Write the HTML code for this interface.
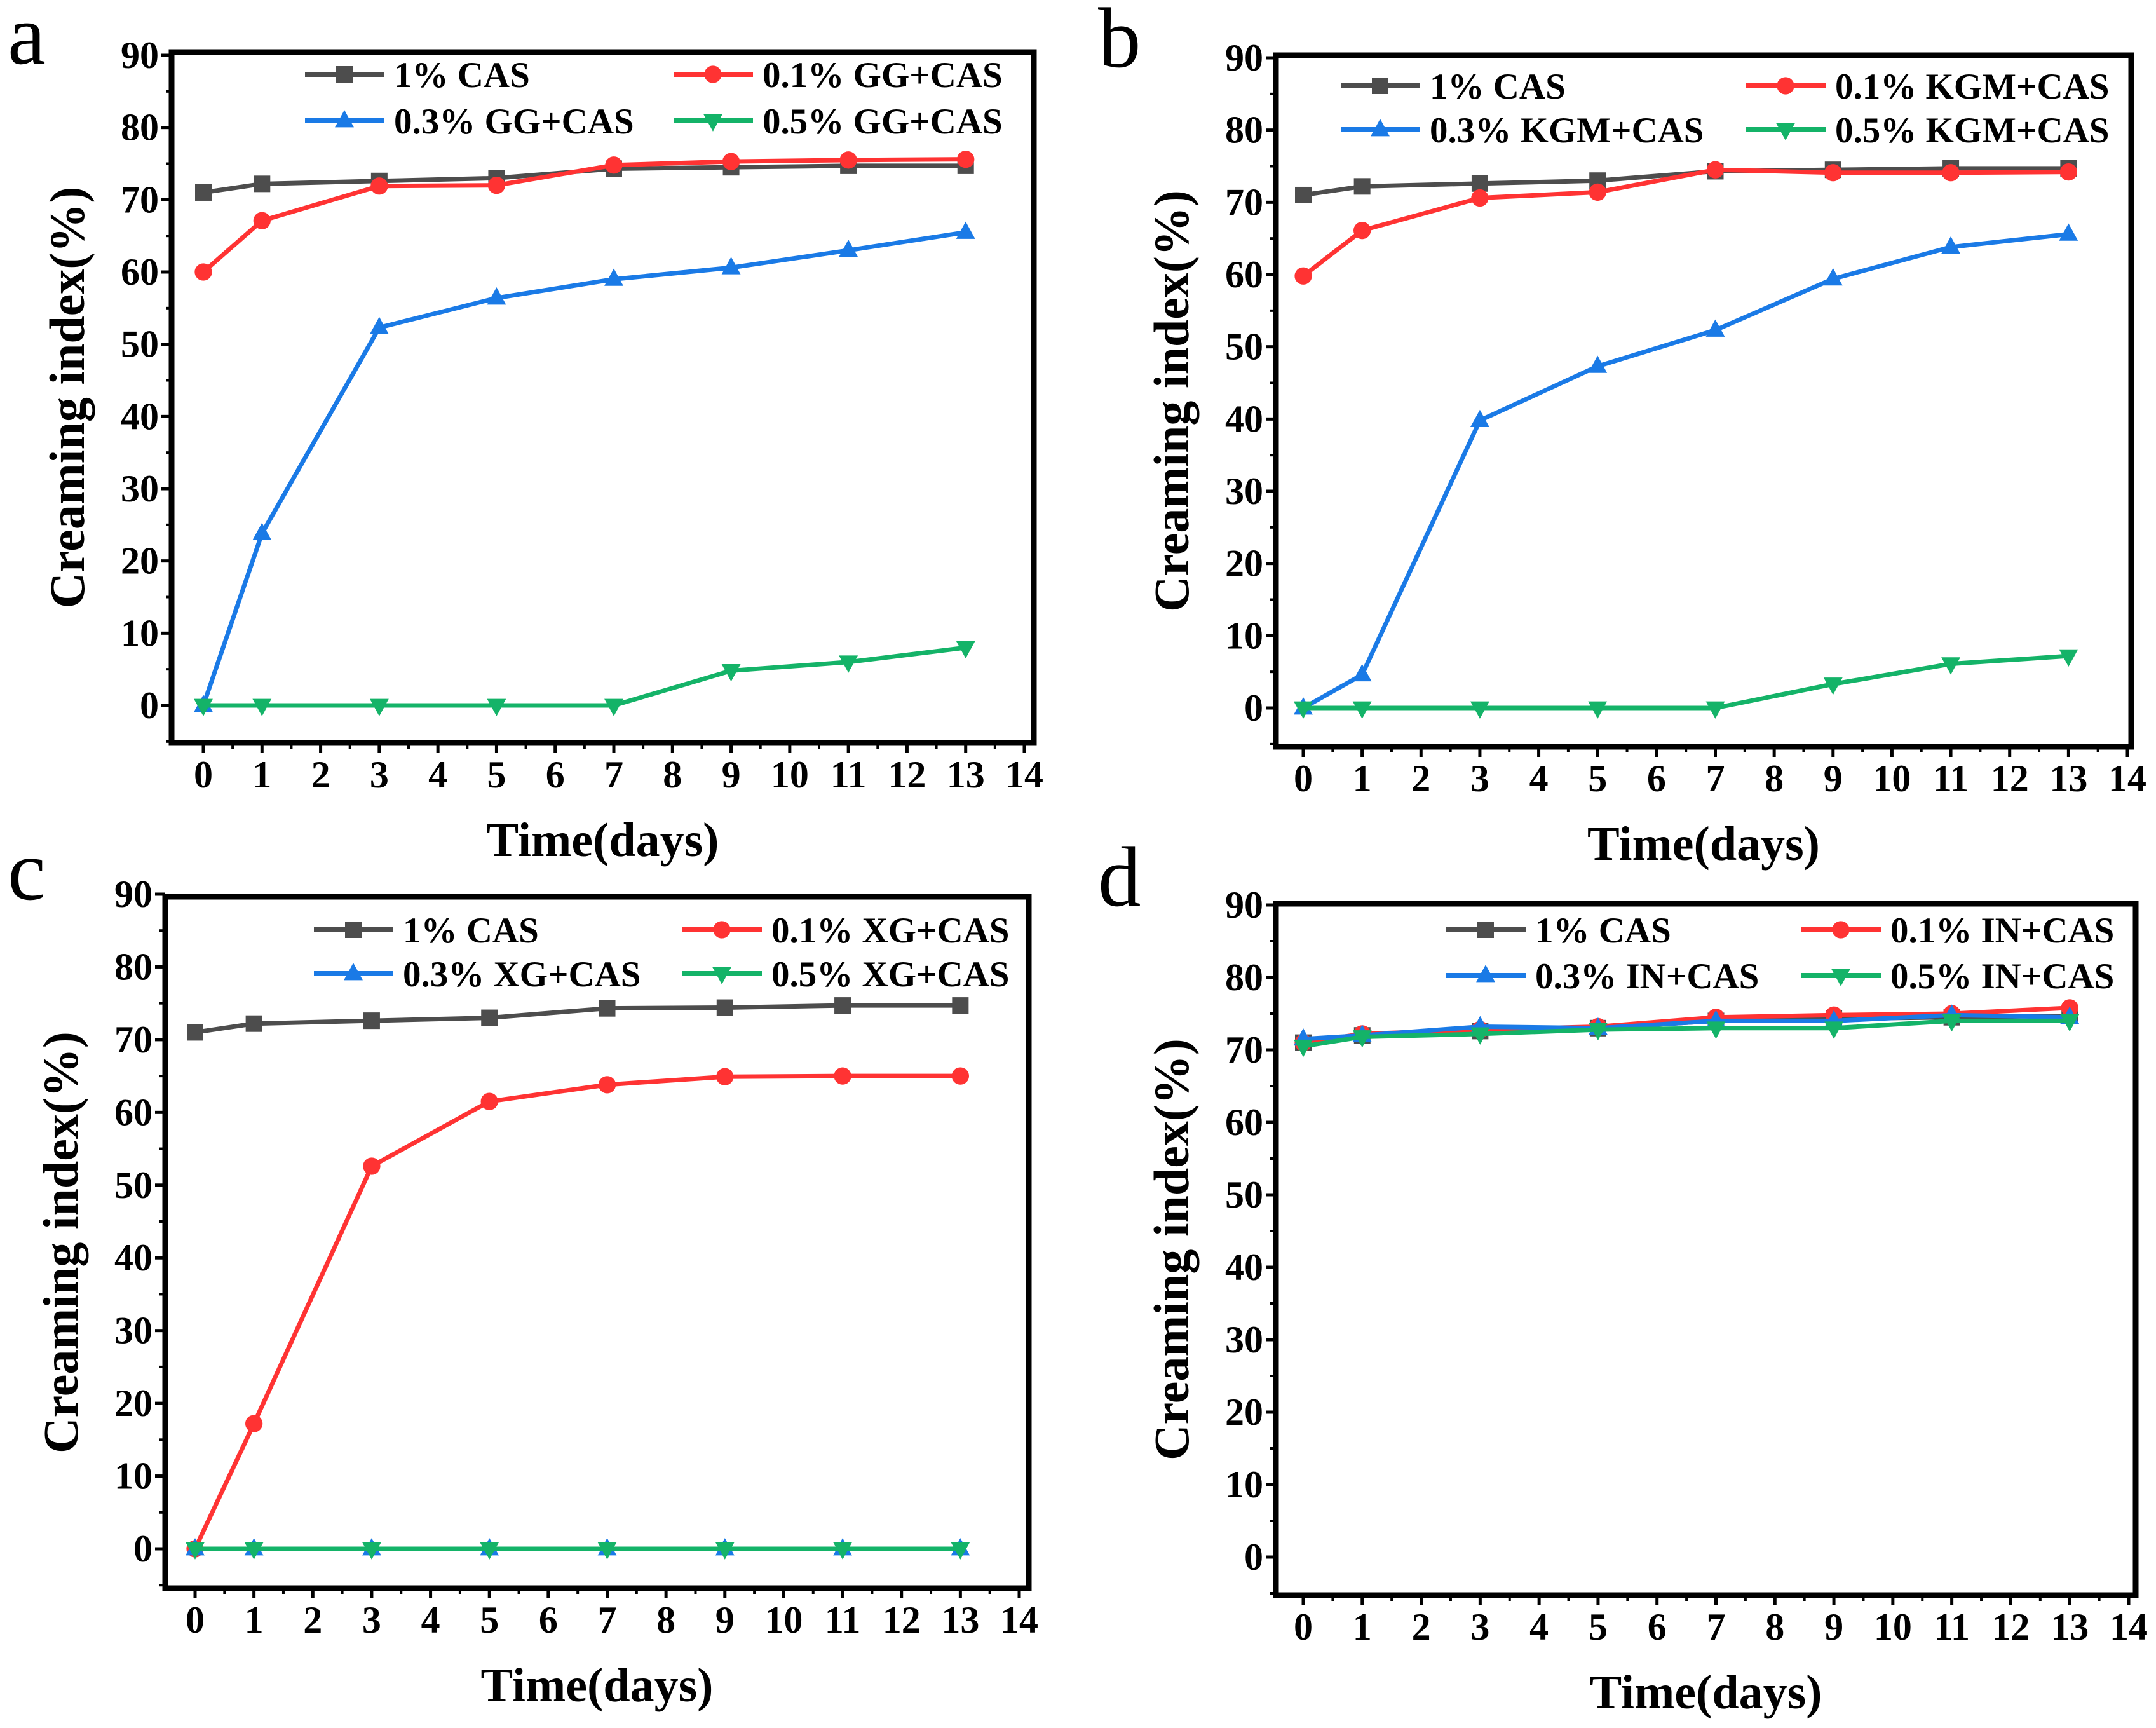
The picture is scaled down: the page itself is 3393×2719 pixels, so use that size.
<!DOCTYPE html>
<html><head><meta charset="utf-8">
<style>
html,body{margin:0;padding:0;background:#fff;}
svg{display:block;}
text{font-family:"Liberation Serif",serif;font-weight:bold;fill:#000;}
</style></head>
<body>
<svg id="fig" width="3393" height="2719" viewBox="0 0 3393 2719" xmlns="http://www.w3.org/2000/svg"></svg>
<script>
const days = [0,1,3,5,7,9,11,13];
const xTicks = [0,1,2,3,4,5,6,7,8,9,10,11,12,13,14];
const yTicks = [0,10,20,30,40,50,60,70,80,90];

const aCas  = [71,72.2,72.6,73,74.3,74.5,74.7,74.7];
const aGG01 = [60,67.1,71.9,72,74.8,75.3,75.5,75.6];
const aGG03 = [0,23.8,52.3,56.4,59,60.6,63,65.5];
const aGG05 = [0,0,0,0,0,4.8,6,8];

const bCas   = [71,72.2,72.6,73,74.3,74.5,74.7,74.7];
const bKGM01 = [59.8,66.1,70.6,71.4,74.5,74.1,74.1,74.2];
const bKGM03 = [0,4.6,39.8,47.3,52.3,59.4,63.8,65.6];
const bKGM05 = [0,0,0,0,0,3.3,6.1,7.2];

const cCas  = [71,72.2,72.6,73,74.3,74.4,74.7,74.7];
const cXG01 = [0,17.2,52.6,61.5,63.8,64.9,65,65];
const cXG03 = [0,0,0,0,0,0,0,0];
const cXG05 = [0,0,0,0,0,0,0,0];

const dCas  = [71,72,72.6,73,74,74.3,74.5,74.7];
const dIN01 = [71,72.2,72.8,73.2,74.5,74.8,75,75.8];
const dIN03 = [71.5,72,73.2,73,74,74,74.8,74.5];
const dIN05 = [70.5,71.8,72.2,72.8,73,73,74,74];

const seriesLabelsA = ["1% CAS","0.1% GG+CAS","0.3% GG+CAS","0.5% GG+CAS"];
const seriesLabelsB = ["1% CAS","0.1% KGM+CAS","0.3% KGM+CAS","0.5% KGM+CAS"];
const seriesLabelsC = ["1% CAS","0.1% XG+CAS","0.3% XG+CAS","0.5% XG+CAS"];
const seriesLabelsD = ["1% CAS","0.1% IN+CAS","0.3% IN+CAS","0.5% IN+CAS"];

const colors = ["#4d4d4d","#ff3333","#1a7ae6","#14b368"];
const markers = ["square","circle","up","down"];

const NS = "http://www.w3.org/2000/svg";
const svg = document.getElementById("fig");
function mk(tag, attrs, parent){
  const e = document.createElementNS(NS, tag);
  for (const k in attrs) e.setAttribute(k, attrs[k]);
  (parent||svg).appendChild(e);
  return e;
}
function marker(g, type, x, y, s, color){
  let m;
  if (type==="square") m = mk("rect",{x:x-s,y:y-s,width:2*s,height:2*s,fill:color},g);
  else if (type==="circle") m = mk("circle",{cx:x,cy:y,r:s*1.05,fill:color},g);
  else if (type==="up") m = mk("polygon",{points:`${x},${y-s*1.3} ${x-s*1.15},${y+s*0.8} ${x+s*1.15},${y+s*0.8}`,fill:color},g);
  else m = mk("polygon",{points:`${x},${y+s*1.3} ${x-s*1.15},${y-s*0.8} ${x+s*1.15},${y-s*0.8}`,fill:color},g);
  return m;
}

function panel(p){
  const g = mk("g",{});
  
  
  const xs = v => p.x0 + (p.x14 - p.x0) * v / 14;
  const ys = v => p.y0 + (p.y90 - p.y0) * v / 90;
  const fr = mk("rect",{x:p.L,y:p.T,width:p.R-p.L,height:p.B-p.T,fill:"none",stroke:"#000","stroke-width":9},g);
  
  
  xTicks.forEach(t=>{
    const x = xs(t);
    mk("line",{x1:x,y1:p.B,x2:x,y2:p.B+16,stroke:"#000","stroke-width":5},g);
    if (t<14) mk("line",{x1:xs(t+0.5),y1:p.B,x2:xs(t+0.5),y2:p.B+9,stroke:"#000","stroke-width":4},g);
    const tl = mk("text",{x:x,y:p.B+70,"font-size":60,"text-anchor":"middle"},g);
    tl.textContent = t;
    
    
  });
  yTicks.forEach(t=>{
    const y = ys(t);
    mk("line",{x1:p.L,y1:y,x2:p.L-16,y2:y,stroke:"#000","stroke-width":5},g);
    if (t<90) mk("line",{x1:p.L,y1:ys(t+5),x2:p.L-9,y2:ys(t+5),stroke:"#000","stroke-width":4},g);
    const tl = mk("text",{x:p.L-20,y:y+20,"font-size":60,"text-anchor":"end"},g);
    tl.textContent = t;
    
    
  });
  mk("line",{x1:p.L,y1:ys(-5),x2:p.L-9,y2:ys(-5),stroke:"#000","stroke-width":4},g);
  const xt = mk("text",{x:(p.L+p.R)/2,y:p.B+178,"font-size":76,"text-anchor":"middle"},g);
  xt.textContent = "Time(days)";
  
  
  const ycx = p.L-138, ycy = (p.T+p.B)/2;
  const yt = mk("text",{x:ycx,y:ycy,"font-size":78,"text-anchor":"middle",transform:`rotate(-90 ${ycx} ${ycy})`},g);
  yt.textContent = "Creaming index(%)";
  
  
  const lt = mk("text",{x:p.letterX,y:p.letterY,"font-size":135,style:"font-weight:normal"},g);
  lt.textContent = p.letter;
  
  
  p.series.forEach((vals,i)=>{
    const sg = mk("g",{},g);
    
    
    const pts = days.map((d,j)=>xs(d)+","+ys(vals[j])).join(" ");
    mk("polyline",{points:pts,fill:"none",stroke:colors[i],"stroke-width":7,"stroke-linejoin":"round"},sg);
    days.forEach((d,j)=>{
      const m = marker(sg, markers[i], xs(d), ys(vals[j]), 13, colors[i]);
      
      
    });
  });
  p.labels.forEach((lab,i)=>{
    const lx = p.L + (i%2===0 ? p.leg1 : p.leg2);
    const ly = p.T + (i<2 ? p.row1 : p.row2);
    const lg = mk("g",{},g);
    
    
    mk("line",{x1:lx,y1:ly,x2:lx+125,y2:ly,stroke:colors[i],"stroke-width":8},lg);
    marker(lg, markers[i], lx+62, ly, 13, colors[i]);
    const t = mk("text",{x:lx+140,y:ly+20,"font-size":57},lg);
    t.textContent = lab;
  });
}

panel({letter:"a",letterX:12,letterY:100,L:270,R:1627,T:82,B:1169,x0:320,x14:1612,y0:1110,y90:87,
  series:[aCas,aGG01,aGG03,aGG05],labels:seriesLabelsA,leg1:210,leg2:790,row1:35,row2:108});
panel({letter:"b",letterX:1728,letterY:105,L:2008,R:3354,T:87,B:1175,x0:2051,x14:3348,y0:1114,y90:91,
  series:[bCas,bKGM01,bKGM03,bKGM05],labels:seriesLabelsB,leg1:102,leg2:740,row1:48,row2:117});
panel({letter:"c",letterX:12,letterY:1415,L:260,R:1619,T:1411,B:2499,x0:307,x14:1604,y0:2437,y90:1407,
  series:[cCas,cXG01,cXG03,cXG05],labels:seriesLabelsC,leg1:234,leg2:814,row1:52,row2:121});
panel({letter:"d",letterX:1728,letterY:1425,L:2008,R:3361,T:1422,B:2510,x0:2051,x14:3350,y0:2450,y90:1424,
  series:[dCas,dIN01,dIN03,dIN05],labels:seriesLabelsD,leg1:268,leg2:827,row1:41,row2:113});
</script>
</body></html>
